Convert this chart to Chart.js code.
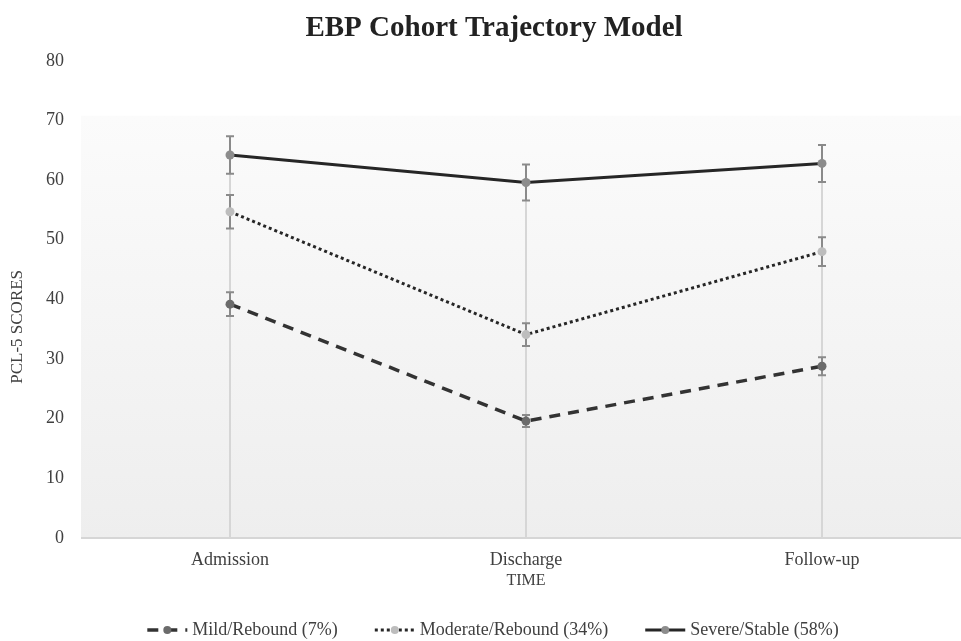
<!DOCTYPE html>
<html>
<head>
<meta charset="utf-8">
<script src="https://cdn.jsdelivr.net/npm/chart.js@4.4.1/dist/chart.umd.min.js"></script>
<style>
  html, body { margin: 0; padding: 0; background: #fff; overflow: hidden; }
  #wrap { position: relative; width: 988px; height: 641px; }
</style>
</head>
<body>
<div id="wrap"><canvas id="trajectory"></canvas></div>
<script>
// values
const timePoints = ["Admission", "Discharge", "Follow-up"];
const yTickValues = [0, 10, 20, 30, 40, 50, 60, 70, 80];

const mildLabel = "Mild/Rebound (7%)";
const mildScores = [39.2, 19.6, 28.8];
const mildErrors = [2.0, 1.0, 1.5];

const moderateLabel = "Moderate/Rebound (34%)";
const moderateScores = [54.7, 34.1, 48.0];
const moderateErrors = [2.8, 1.9, 2.4];

const severeLabel = "Severe/Stable (58%)";
const severeScores = [64.2, 59.6, 62.8];
const severeErrors = [3.15, 3.0, 3.1];

const FONT = "'Liberation Serif', 'Times New Roman', serif";
const TEXT = "#404040";
const plotBackgroundTop = 70.8;

const decorations = {
	id: "decorations",
	beforeDraw(chart) {
		const { ctx, chartArea, scales } = chart;
		const top = scales.y.getPixelForValue(plotBackgroundTop);
		const grad = ctx.createLinearGradient(0, top, 0, chartArea.bottom);
		grad.addColorStop(0, "#fbfbfb");
		grad.addColorStop(1, "#eeeeee");
		ctx.save();
		ctx.fillStyle = grad;
		ctx.fillRect(chartArea.left - 1, top, chartArea.right - chartArea.left + 1, chartArea.bottom - top);
		ctx.restore();
	},
	beforeDatasetsDraw(chart) {
		const { ctx, scales } = chart;
		const datasets = chart.data.datasets;
		ctx.save();

		// drop lines from the highest point down to the axis
		ctx.strokeStyle = "#d6d6d6";
		ctx.lineWidth = 2;
		timePoints.forEach((t, i) => {
			const x = scales.x.getPixelForValue(i);
			const top = Math.max(...datasets.map((ds) => ds.data[i]));
			ctx.beginPath();
			ctx.moveTo(x, scales.y.getPixelForValue(top));
			ctx.lineTo(x, scales.y.getPixelForValue(0));
			ctx.stroke();
		});

		// error bars
		ctx.strokeStyle = "#8a8a8a";
		ctx.lineWidth = 2;
		datasets.forEach((ds) => {
			ds.errors.forEach((err, i) => {
				const x = scales.x.getPixelForValue(i);
				const hi = scales.y.getPixelForValue(ds.data[i] + err);
				const lo = scales.y.getPixelForValue(ds.data[i] - err);
				ctx.beginPath();
				ctx.moveTo(x, hi);
				ctx.lineTo(x, lo);
				ctx.moveTo(x - 4, hi);
				ctx.lineTo(x + 4, hi);
				ctx.moveTo(x - 4, lo);
				ctx.lineTo(x + 4, lo);
				ctx.stroke();
			});
		});
		ctx.restore();
	},
	afterDraw(chart) {
		const { ctx, chartArea, scales } = chart;
		ctx.save();

		// y axis title, centred on the shaded plot area
		const top = scales.y.getPixelForValue(plotBackgroundTop);
		ctx.translate(18, (top + chartArea.bottom) / 2);
		ctx.rotate(-Math.PI / 2);
		ctx.font = "17px " + FONT;
		ctx.fillStyle = TEXT;
		ctx.textAlign = "center";
		ctx.textBaseline = "middle";
		ctx.fillText("PCL-5 SCORES", 0, 0);
		ctx.setTransform(1, 0, 0, 1, 0, 0);

		// legend
		ctx.font = "18px " + FONT;
		const sample = 40;
		const gap = 5;
		const spacing = 37;
		const items = chart.data.datasets.map((ds) => ({ ds, w: sample + gap + ctx.measureText(ds.label).width }));
		const total = items.reduce((s, it) => s + it.w, 0) + spacing * (items.length - 1);
		let x = 493 - total / 2;
		const y = 630;
		items.forEach(({ ds, w }) => {
			ctx.beginPath();
			ctx.setLineDash(ds.borderDash || []);
			ctx.strokeStyle = ds.borderColor;
			ctx.lineWidth = ds.borderWidth;
			ctx.moveTo(x, y);
			ctx.lineTo(x + sample, y);
			ctx.stroke();
			ctx.setLineDash([]);
			ctx.beginPath();
			ctx.fillStyle = ds.pointBackgroundColor;
			ctx.arc(x + sample / 2, y, 4, 0, Math.PI * 2);
			ctx.fill();
			ctx.fillStyle = TEXT;
			ctx.textAlign = "left";
			ctx.textBaseline = "middle";
			ctx.fillText(ds.label, x + sample + gap, y);
			x += w + spacing;
		});
		ctx.restore();
	},
};

new Chart(document.getElementById("trajectory"), {
	type: "line",
	data: {
		labels: timePoints,
		datasets: [
			{
				label: mildLabel,
				data: mildScores,
				errors: mildErrors,
				borderColor: "#333333",
				borderWidth: 3.5,
				borderDash: [11, 8],
				pointBackgroundColor: "#6b6b6b",
				pointBorderWidth: 0,
				pointRadius: 4.5,
			},
			{
				label: moderateLabel,
				data: moderateScores,
				errors: moderateErrors,
				borderColor: "#262626",
				borderWidth: 3,
				borderDash: [3, 3],
				pointBackgroundColor: "#bdbdbd",
				pointBorderWidth: 0,
				pointRadius: 4.5,
			},
			{
				label: severeLabel,
				data: severeScores,
				errors: severeErrors,
				borderColor: "#262626",
				borderWidth: 3,
				pointBackgroundColor: "#8c8c8c",
				pointBorderWidth: 0,
				pointRadius: 4.5,
			},
		],
	},
	options: {
		responsive: true,
		maintainAspectRatio: false,
		animation: false,
		layout: {
			padding: { left: 18, right: 18, top: 0, bottom: 51 },
		},
		plugins: {
			legend: { display: false },
			tooltip: { enabled: false },
			title: {
				display: true,
				text: "EBP Cohort Trajectory Model",
				color: "#222222",
				font: { family: FONT, size: 29, weight: "bold" },
				padding: { top: 11, bottom: 15 },
			},
		},
		scales: {
			x: {
				offset: true,
				grid: { display: false, drawTicks: false },
				border: { display: true, color: "#d6d6d6", width: 2 },
				ticks: { color: TEXT, font: { family: FONT, size: 18 }, padding: 11 },
				title: {
					display: true,
					text: "TIME",
					color: TEXT,
					font: { family: FONT, size: 16 },
					padding: { top: 0, bottom: 0 },
				},
				afterFit: (scale) => {
					scale.height = 52;
				},
			},
			y: {
				min: 0,
				max: 80,
				grid: { display: false, drawTicks: false },
				border: { display: false },
				afterBuildTicks: (scale) => {
					scale.ticks = yTickValues.map((v) => ({ value: v }));
				},
				afterFit: (scale) => {
					scale.width = 64;
				},
				ticks: { color: TEXT, font: { family: FONT, size: 18 }, padding: 18 },
			},
		},
	},
	plugins: [decorations],
});
</script>
</body>
</html>
